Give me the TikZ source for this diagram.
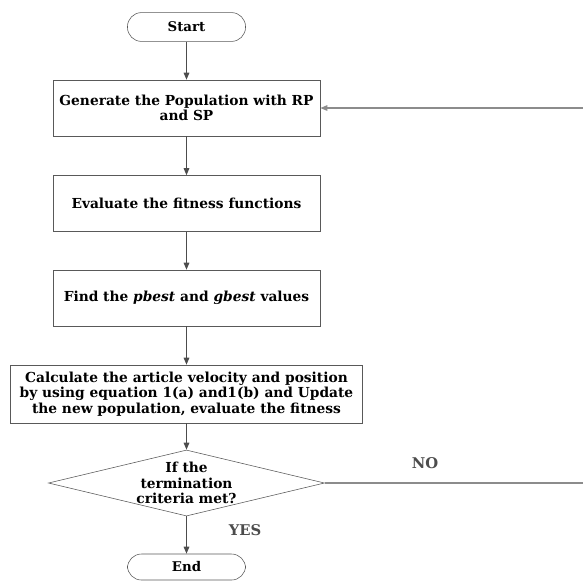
\documentclass[tikz,border=0pt]{standalone}
\usepackage{fontspec}
\setmainfont{DejaVu Serif}
\usetikzlibrary{arrows.meta, positioning, shapes.geometric, calc}

\begin{document}
\begin{tikzpicture}[x=0.025cm, y=-0.025cm,
			term/.style={rectangle, rounded corners=0.35cm, draw=black!65, minimum width=2.95cm,
				minimum height=0.72cm, font=\fontsize{9.5}{10}\selectfont\bfseries, inner sep=0pt},
			proc/.style={rectangle, draw=black!65, minimum width=6.68cm, minimum height=1.4cm,
				font=\fontsize{9.8}{10.8}\selectfont\bfseries, align=center, inner sep=2pt},
			dec/.style={diamond, draw=black!65, aspect=4.2, minimum width=6.9cm, minimum height=1.65cm,
				font=\fontsize{9.8}{10.8}\selectfont\bfseries, align=center, inner sep=0pt},
			flow/.style={-{Triangle[length=5pt, width=4pt]}, draw=black!70, thick},
			lbl/.style={font=\fontsize{10.5}{11}\selectfont\bfseries, text=black!70}
			]
			\useasboundingbox (0,0) rectangle (583,581);
			\node[term] (start) at (186.5,27) {Start};
			\node[proc] (gen) at (186.5,108) {Generate the Population with RP\\and SP};
			\node[proc] (fit) at (186.5,203.5) {Evaluate the fitness functions};
			\node[proc] (best) at (186.5,298) {Find the \textit{pbest} and \textit{gbest} values};
			\node[proc, minimum width=8.8cm, minimum height=1.45cm, inner sep=1pt] (upd) at (186.5,394)
				{Calculate the article velocity and position\\by using equation 1(a) and1(b) and Update\\the new population, evaluate the fitness};
			\node[dec] (crit) at (186.5,483) {If the\\termination\\criteria met?};
			\node[term, minimum height=0.65cm] (stop) at (186.5,567) {End};
			\coordinate (back) at (595,300);
			
			\draw[flow] (start) -- (gen);
			\draw[flow] (gen) -- (fit);
			\draw[flow] (fit) -- (best);
			\draw[flow] (best) -- (upd);
			\draw[flow] (upd) -- (crit);
			\draw[flow] (crit) -- (stop);
			\draw[flow, draw=black!45] (crit.east) -- (crit.east -| back) |- (gen.east);
			\node[lbl] (yes) at (245,530) {YES};
			\node[lbl] (no) at (425,463) {NO};
		\end{tikzpicture}
\end{document}
